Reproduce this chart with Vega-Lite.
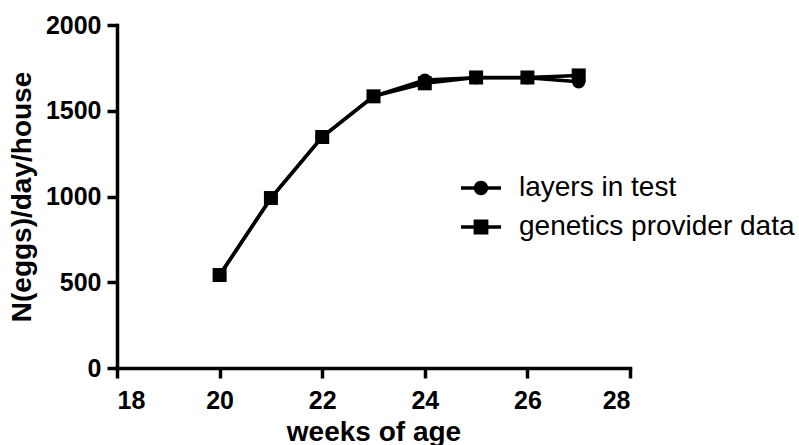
{
  "$schema": "https://vega.github.io/schema/vega-lite/v6.json",
  "autosize": "none",
  "padding": {"left": 117, "top": 25, "right": 169, "bottom": 77},
  "width": 513,
  "height": 343,
  "background": "white",
  "config": {
    "view": {"stroke": null},
    "font": "Liberation Sans"
  },
  "data": {
    "values": [
      {"week": 20, "value": 540, "series": "layers in test"},
      {"week": 21, "value": 990, "series": "layers in test"},
      {"week": 22, "value": 1347, "series": "layers in test"},
      {"week": 23, "value": 1584, "series": "layers in test"},
      {"week": 24, "value": 1679, "series": "layers in test"},
      {"week": 25, "value": 1693, "series": "layers in test"},
      {"week": 26, "value": 1693, "series": "layers in test"},
      {"week": 27, "value": 1669, "series": "layers in test"},
      {"week": 20, "value": 542, "series": "genetics provider data"},
      {"week": 21, "value": 991, "series": "genetics provider data"},
      {"week": 22, "value": 1347, "series": "genetics provider data"},
      {"week": 23, "value": 1584, "series": "genetics provider data"},
      {"week": 24, "value": 1660, "series": "genetics provider data"},
      {"week": 25, "value": 1694, "series": "genetics provider data"},
      {"week": 26, "value": 1694, "series": "genetics provider data"},
      {"week": 27, "value": 1706, "series": "genetics provider data"}
    ]
  },
  "encoding": {
    "x": {
      "field": "week", "type": "quantitative",
      "scale": {"domain": [18, 28], "nice": false, "zero": false},
      "axis": {
        "title": "weeks of age", "values": [18, 20, 22, 24, 26, 28], "format": "d",
        "grid": false, "domainColor": "black", "domainWidth": 3.5, "domainCap": "square",
        "tickColor": "black", "tickWidth": 3.5, "tickSize": 10,
        "labelFont": "Liberation Sans", "labelFontWeight": "bold", "labelFontSize": 25, "labelColor": "black", "labelPadding": 10,
        "titleFont": "Liberation Sans", "titleFontWeight": "bold", "titleFontSize": 28, "titleColor": "black", "titlePadding": 5
      }
    },
    "y": {
      "field": "value", "type": "quantitative",
      "scale": {"domain": [0, 2000], "nice": false},
      "axis": {
        "title": "N(eggs)/day/house", "values": [0, 500, 1000, 1500, 2000], "format": "d",
        "grid": false, "domainColor": "black", "domainWidth": 3.5, "domainCap": "square",
        "tickColor": "black", "tickWidth": 3.5, "tickSize": 10,
        "labelFont": "Liberation Sans", "labelFontWeight": "bold", "labelFontSize": 25, "labelColor": "black", "labelPadding": 6,
        "titleFont": "Liberation Sans", "titleFontWeight": "bold", "titleFontSize": 28, "titleColor": "black", "titlePadding": 9
      }
    }
  },
  "resolve": {"scale": {"shape": "independent"}, "legend": {"shape": "independent"}},
  "layer": [
    {
      "mark": {"type": "line", "color": "black", "strokeWidth": 3.5},
      "encoding": {"detail": {"field": "series"}}
    },
    {
      "mark": {"type": "point", "filled": true, "color": "black", "opacity": 0, "size": 1},
      "encoding": {
        "shape": {
          "field": "series", "type": "nominal",
          "scale": {"domain": ["layers in test", "genetics provider data"], "range": ["M-1,-0.09H1V0.09H-1ZM0.36,0A0.36,0.36,0,1,1,-0.36,0A0.36,0.36,0,1,1,0.36,0Z", "M-1,-0.09H1V0.09H-1ZM-0.37,-0.37H0.37V0.37H-0.37Z"]},
          "legend": {
            "title": null,
            "orient": "none",
            "legendX": 344,
            "legendY": 143,
            "padding": 0,
            "symbolSize": 1600,
            "symbolOpacity": 1,
            "symbolFillColor": "black",
            "symbolStrokeWidth": 0,
            "labelFont": "Liberation Sans",
            "labelFontSize": 28,
            "labelColor": "black",
            "labelOffset": 18,
            "rowPadding": 5,
            "labelLimit": 400
          }
        }
      }
    },
    {
      "mark": {"type": "point", "filled": true, "color": "black", "opacity": 1, "size": 196},
      "encoding": {
        "shape": {
          "field": "series", "type": "nominal",
          "scale": {"domain": ["layers in test", "genetics provider data"], "range": ["M0.95,0A0.95,0.95,0,1,1,-0.95,0A0.95,0.95,0,1,1,0.95,0Z", "square"]},
          "legend": null
        },
        "order": {"field": "series", "sort": "descending"}
      }
    }
  ]
}
